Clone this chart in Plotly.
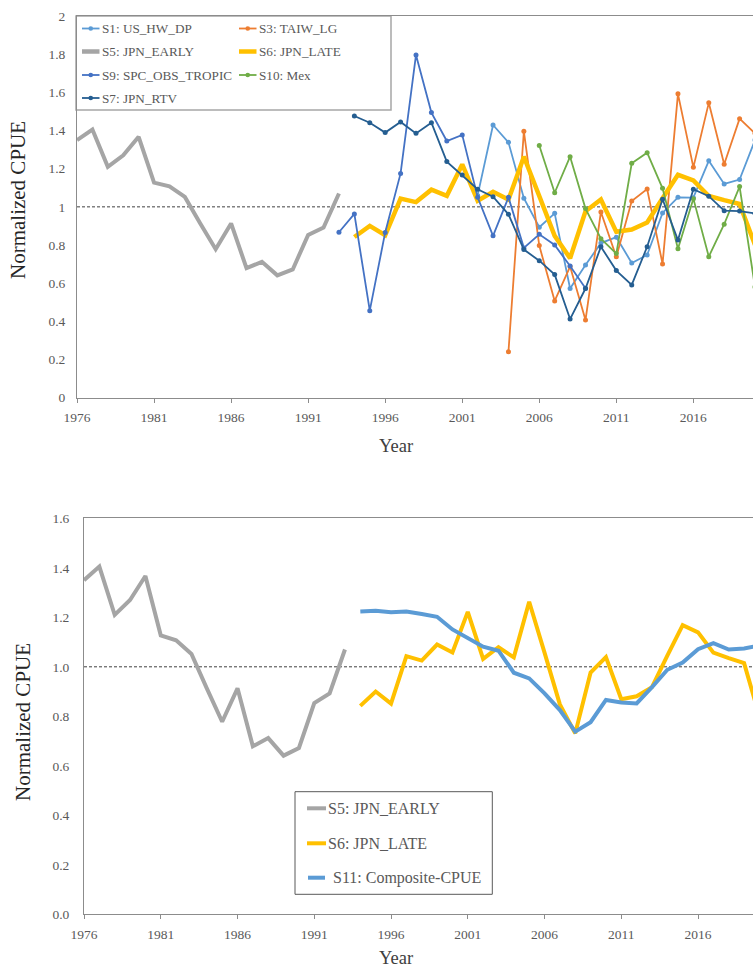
import plotly.graph_objects as go

# ---- data -------------------------------------------------------------
years_early = list(range(1976, 1994))
s5_jpn_early = [1.35, 1.405, 1.21, 1.27, 1.367, 1.127, 1.107, 1.052, 0.913,
                0.778, 0.913, 0.679, 0.712, 0.641, 0.672, 0.853, 0.892, 1.07]

years_late = list(range(1994, 2021))
s6_jpn_late = [0.842, 0.90, 0.851, 1.043, 1.025, 1.09, 1.058, 1.222, 1.032,
               1.079, 1.038, 1.263, 1.057, 0.848, 0.731, 0.977, 1.039, 0.869,
               0.881, 0.918, 1.045, 1.168, 1.139, 1.057, 1.035, 1.015, 0.80]
s7_jpn_rtv = [1.476, 1.441, 1.389, 1.445, 1.385, 1.441, 1.237, 1.167, 1.092,
              1.053, 0.961, 0.776, 0.718, 0.645, 0.412, 0.572, 0.791, 0.666,
              0.591, 0.791, 1.04, 0.826, 1.092, 1.056, 0.98, 0.978, 0.965]
s11_composite = [1.223, 1.226, 1.22, 1.223, 1.213, 1.202, 1.151, 1.115, 1.081,
                 1.065, 0.976, 0.953, 0.893, 0.825, 0.738, 0.776, 0.866, 0.856,
                 0.852, 0.918, 0.988, 1.017, 1.071, 1.096, 1.07, 1.074, 1.086]

years_s9 = list(range(1993, 2010))
s9_spc_obs_tropic = [0.867, 0.963, 0.456, 0.866, 1.175, 1.796, 1.494, 1.345,
                     1.377, 1.05, 0.848, 1.05, 0.785, 0.856, 0.80, 0.69, 0.573]

years_s1 = list(range(2002, 2021))
s1_us_hw_dp = [1.06, 1.429, 1.338, 1.045, 0.893, 0.966, 0.572, 0.695, 0.81,
               0.841, 0.706, 0.748, 0.968, 1.05, 1.048, 1.241, 1.12, 1.143, 1.35]

years_s3 = list(range(2004, 2021))
s3_taiw_lg = [0.241, 1.396, 0.797, 0.507, 0.687, 0.407, 0.973, 0.738, 1.03,
              1.093, 0.701, 1.592, 1.207, 1.545, 1.223, 1.462, 1.385]

years_s10 = list(range(2006, 2021))
s10_mex = [1.321, 1.074, 1.263, 0.991, 0.833, 0.755, 1.228, 1.284, 1.097,
           0.78, 1.043, 0.739, 0.909, 1.106, 0.58]

x_ticks = list(range(1976, 2021, 5))

# ---- styling ----------------------------------------------------------
W, H = 753, 969
FONT = "Liberation Serif"
TICK_COLOR = "#595959"
AXIS_COLOR = "#8c8c8c"
C_S1 = "#5B9BD5"
C_S3 = "#ED7D31"
C_S5 = "#A5A5A5"
C_S6 = "#FFC000"
C_S9 = "#4472C4"
C_S10 = "#70AD47"
C_S7 = "#255E91"
C_S11 = "#5B9BD5"


def px(x):
    return x / W


def py(y):
    return 1 - y / H


fig = go.Figure()

# upper panel: all indices
thin = [
    ("S1: US_HW_DP", years_s1, s1_us_hw_dp, C_S1),
    ("S3: TAIW_LG", years_s3, s3_taiw_lg, C_S3),
]
for name, xs, ys, c in thin:
    fig.add_trace(go.Scatter(x=xs, y=ys, name=name, mode="lines+markers",
                             line=dict(color=c, width=1.8),
                             marker=dict(color=c, size=5),
                             xaxis="x", yaxis="y", showlegend=False))
fig.add_trace(go.Scatter(x=years_early, y=s5_jpn_early, name="S5: JPN_EARLY",
                         mode="lines", line=dict(color=C_S5, width=4),
                         xaxis="x", yaxis="y", showlegend=False))
fig.add_trace(go.Scatter(x=years_late, y=s6_jpn_late, name="S6: JPN_LATE",
                         mode="lines", line=dict(color=C_S6, width=4.5),
                         xaxis="x", yaxis="y", showlegend=False))
thin2 = [
    ("S9: SPC_OBS_TROPIC", years_s9, s9_spc_obs_tropic, C_S9),
    ("S10: Mex", years_s10, s10_mex, C_S10),
    ("S7: JPN_RTV", years_late, s7_jpn_rtv, C_S7),
]
for name, xs, ys, c in thin2:
    fig.add_trace(go.Scatter(x=xs, y=ys, name=name, mode="lines+markers",
                             line=dict(color=c, width=1.8),
                             marker=dict(color=c, size=5),
                             xaxis="x", yaxis="y", showlegend=False))

# lower panel: early/late Japanese series with the composite
fig.add_trace(go.Scatter(x=years_early, y=s5_jpn_early, name="S5: JPN_EARLY",
                         mode="lines", line=dict(color=C_S5, width=4),
                         xaxis="x2", yaxis="y2", showlegend=False))
fig.add_trace(go.Scatter(x=years_late, y=s6_jpn_late, name="S6: JPN_LATE",
                         mode="lines", line=dict(color=C_S6, width=4),
                         xaxis="x2", yaxis="y2", showlegend=False))
fig.add_trace(go.Scatter(x=years_late, y=s11_composite,
                         name="S11: Composite-CPUE", mode="lines",
                         line=dict(color=C_S11, width=4),
                         xaxis="x2", yaxis="y2", showlegend=False))

tickfont = dict(family=FONT, size=13.5, color=TICK_COLOR)
common_x = dict(tickmode="array", tickvals=x_ticks, ticks="outside",
                ticklen=4, tickcolor=AXIS_COLOR, showline=True,
                linecolor=AXIS_COLOR, linewidth=1, mirror=True,
                showgrid=False, zeroline=False, tickfont=tickfont,
                ticklabelstandoff=3, automargin=False)
common_y = dict(ticks="", showline=True, linecolor=AXIS_COLOR, linewidth=1,
                showgrid=False, zeroline=False, tickfont=tickfont,
                automargin=False)

fig.update_layout(
    template="none",
    width=W, height=H,
    margin=dict(l=0, r=0, t=0, b=0, pad=0),
    paper_bgcolor="white", plot_bgcolor="white",
    font=dict(family=FONT),
    xaxis=dict(common_x, domain=[px(77), 1.0], range=[1976, 2019.87],
               anchor="y"),
    yaxis=dict(common_y, domain=[py(397.7), py(16)], range=[0, 2],
               tickvals=[0, 0.2, 0.4, 0.6, 0.8, 1, 1.2, 1.4, 1.6, 1.8, 2],
               ticklabelstandoff=8, anchor="x"),
    xaxis2=dict(common_x, domain=[px(84), 1.0], range=[1976, 2019.58],
                anchor="y2"),
    yaxis2=dict(common_y, domain=[py(914.3), py(518.3)], range=[0, 1.6],
                tickvals=[0, 0.2, 0.4, 0.6, 0.8, 1.0, 1.2, 1.4, 1.6],
                tickformat=".1f", ticklabelstandoff=11, anchor="x2"),
)

shapes = []
annotations = []

# reference line at CPUE = 1
for xr, yr in (("x domain", "y"), ("x2 domain", "y2")):
    shapes.append(dict(type="line", xref=xr, yref=yr, x0=0, x1=1, y0=1, y1=1,
                       line=dict(color="#404040", width=1, dash="3px,2px"),
                       layer="below"))

# axis titles
for cx, cy in ((18, 200), (23, 722)):
    annotations.append(dict(text="Normalized CPUE", x=px(cx), y=py(cy),
                            xref="paper", yref="paper", showarrow=False,
                            textangle=-90, xanchor="center", yanchor="middle",
                            font=dict(family=FONT, size=21, color="#262626")))
for cx, cy in ((396, 446), (396, 958)):
    annotations.append(dict(text="Year", x=px(cx), y=py(cy), xref="paper",
                            yref="paper", showarrow=False, xanchor="center",
                            yanchor="middle", borderpad=0,
                            font=dict(family=FONT, size=18.5, color="#404040")))

# upper legend
shapes.append(dict(type="rect", xref="paper", yref="paper",
                   x0=px(76), x1=px(391), y0=py(110), y1=py(16),
                   line=dict(color="#a6a6a6", width=1.5), fillcolor="white",
                   layer="below"))
upper_items = [
    ("S1: US_HW_DP", C_S1, 1.8, True, 0, 28.5),
    ("S3: TAIW_LG", C_S3, 1.8, True, 1, 28.5),
    ("S5: JPN_EARLY", C_S5, 4.5, False, 0, 51.5),
    ("S6: JPN_LATE", C_S6, 4.5, False, 1, 51.5),
    ("S9: SPC_OBS_TROPIC", C_S9, 1.8, True, 0, 75),
    ("S10: Mex", C_S10, 1.8, True, 1, 75),
    ("S7: JPN_RTV", C_S7, 1.8, True, 0, 98),
]
col_x = [(82, 99.5, 99.5), (239, 256.5, 256.5)]
for label, c, w, mk, col, ry in upper_items:
    x0, x1, tx = col_x[col]
    shapes.append(dict(type="line", xref="paper", yref="paper",
                       x0=px(x0), x1=px(x1), y0=py(ry), y1=py(ry),
                       line=dict(color=c, width=w)))
    if mk:
        xm = (x0 + x1) / 2
        shapes.append(dict(type="circle", xref="paper", yref="paper",
                           x0=px(xm - 2.3), x1=px(xm + 2.3),
                           y0=py(ry + 2.3), y1=py(ry - 2.3),
                           line=dict(width=0), fillcolor=c))
    annotations.append(dict(text=label, x=px(tx), y=py(ry), xref="paper",
                            yref="paper", showarrow=False, xanchor="left",
                            yanchor="middle",
                            font=dict(family=FONT, size=13.2,
                                      color=TICK_COLOR)))

# lower legend
shapes.append(dict(type="rect", xref="paper", yref="paper",
                   x0=px(295), x1=px(492.3), y0=py(894.3), y1=py(791.7),
                   line=dict(color="#595959", width=1), fillcolor="white"))
lower_items = [
    ("S5: JPN_EARLY", C_S5, 307, 326, 325.5, 808.3),
    ("S6: JPN_LATE", C_S6, 307, 326, 325.5, 843.3),
    ("S11: Composite-CPUE", C_S11, 308, 325, 330.5, 877.7),
]
for label, c, x0, x1, tx, ry in lower_items:
    shapes.append(dict(type="line", xref="paper", yref="paper",
                       x0=px(x0), x1=px(x1), y0=py(ry), y1=py(ry),
                       line=dict(color=c, width=4)))
    annotations.append(dict(text=label, x=px(tx), y=py(ry), xref="paper",
                            yref="paper", showarrow=False, xanchor="left",
                            yanchor="middle",
                            font=dict(family=FONT, size=16,
                                      color=TICK_COLOR)))

fig.update_layout(shapes=shapes, annotations=annotations)

fig.write_html("out.html")
